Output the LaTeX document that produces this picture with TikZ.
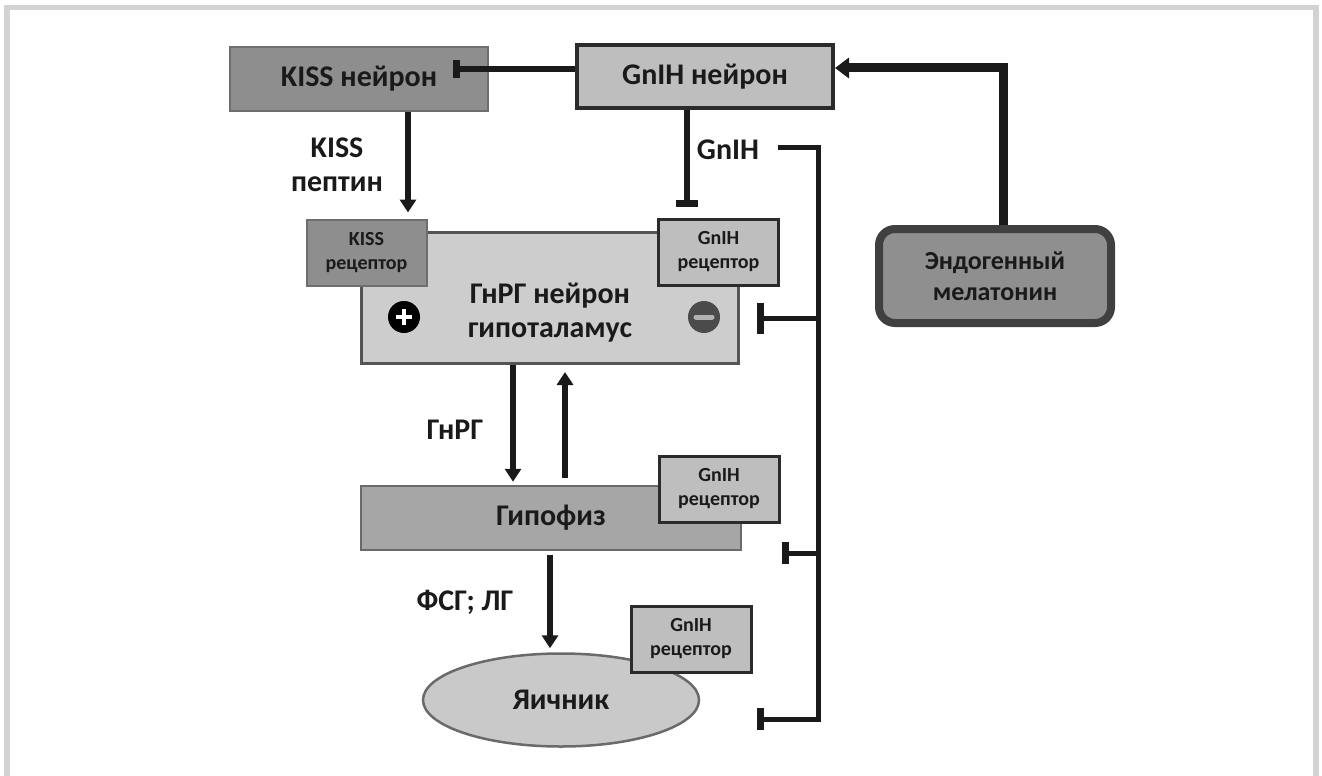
\documentclass[tikz,border=0pt]{standalone}
\usepackage{fontspec}
\setmainfont{Carlito}
\usetikzlibrary{arrows.meta, shapes.geometric}
\definecolor{ink}{HTML}{1A1A1A}
\definecolor{framegray}{HTML}{D3D3D3}
\definecolor{kissgray}{HTML}{8E8E8E}
\definecolor{kissedge}{HTML}{6E6E6E}
\definecolor{gnihgray}{HTML}{BEBEBE}
\definecolor{gnrhgray}{HTML}{CDCDCD}
\definecolor{pitgray}{HTML}{A6A6A6}
\definecolor{ovarygray}{HTML}{C9C9C9}
\definecolor{melgray}{HTML}{8F8F8F}
\definecolor{darkedge}{HTML}{2B2B2B}
\definecolor{midedge}{HTML}{6A6A6A}

\begin{document}
\begin{tikzpicture}[x=1pt, y=-1pt, >={Triangle[length=13pt,width=16pt]},
    every node/.style={font=\bfseries\fontsize{30}{34}\selectfont, text=ink},
    block/.style={rectangle, draw, align=center, inner sep=0pt},
    kissblock/.style={block, fill=kissgray, draw=kissedge, line width=2pt},
    receptor/.style={block, fill=gnihgray, draw=darkedge, line width=3pt, minimum width=120, minimum height=66, font=\bfseries\fontsize{20}{24}\selectfont},
    sign/.style={circle, inner sep=0pt, minimum size=32},
    act/.style={->, draw=ink, line width=6pt},
    inhibit/.style={-{Bar[width=#1, line width=7pt]}, draw=ink, line width=6pt},
    inhibit/.default=22pt]
% frame
\useasboundingbox (0,0) rectangle (1322,776);
\fill[framegray] (4,5) rectangle (1319,776);
\fill[white] (10,10) rectangle (1313,776);

% Top row
\node[kissblock, minimum width=258, minimum height=64] (kiss) at (359,79) {KISS нейрон};
\node[block, fill=gnihgray, draw=darkedge, line width=4pt, minimum width=256, minimum height=63] (gnih) at (705,76.5) {GnIH нейрон};
\node[block, fill=melgray, draw=darkedge!90, line width=8pt, rounded corners=16pt, minimum width=232, minimum height=94, font=\bfseries\fontsize{26}{31}\selectfont] (mel) at (995,276) {Эндогенный\\мелатонин};

% GnRH neuron with its receptors
\node[block, fill=gnrhgray, draw=midedge!80!black, line width=3pt, minimum width=377, minimum height=131] (gnrh) at (550,298) {};
\node[align=center] (gnrhtext) at ([yshift=-15pt]gnrh.center) {ГнРГ нейрон\\гипоталамус};
\node[receptor, fill=kissgray, draw=kissedge, line width=2pt] (kissrec) at (366.5,252.5) {KISS\\рецептор};
\node[receptor] (gnrhrec) at (718.5,252) {GnIH\\рецептор};
\node[sign, fill=black] (plus) at (404,317) {};
\node[sign, fill=darkedge!85] (minus) at (704,317) {};
\draw[white, line width=4pt] ([xshift=-8pt]plus.center) -- ([xshift=8pt]plus.center)
    ([yshift=-8pt]plus.center) -- ([yshift=8pt]plus.center);
\draw[gray!60, line width=5pt, line cap=round] ([xshift=-8pt]minus.center) -- ([xshift=8pt]minus.center);

% Pituitary and ovary
\node[block, fill=pitgray, draw=midedge, line width=2.5pt, minimum width=380, minimum height=64] (pit) at (551,518) {Гипофиз};
\node[receptor] (pitrec) at (719,489) {GnIH\\рецептор};
\node[ellipse, draw=midedge, fill=ovarygray, line width=2.5pt, inner sep=0pt, minimum width=276, minimum height=93] (ovary) at (561,700) {Яичник};
\node[receptor] (ovaryrec) at (691,639) {GnIH\\рецептор};

% KISS and GnIH neurons
\coordinate (kissbar) at (453,69);
\draw[inhibit=17pt] (gnih.west |- kissbar) -- (kissbar);
\draw[act] ([xshift=49pt]kiss.south) -- ([xshift=41.5pt,yshift=6pt]kissrec.north);
\node[align=center] (kisspep) at (337,165) {KISS\\пептин};
\draw[inhibit] ([xshift=-18pt]gnih.south) -- ([xshift=-31.5pt,yshift=10.5pt]gnrhrec.north);
\node (gnihlabel) at (728,150) {GnIH};
\draw[-{Triangle[length=14pt,width=20pt]}, draw=ink, line width=9pt] ([xshift=8pt]mel.north) |- ([yshift=8.5pt]gnih.east);

% Axis downwards
\draw[act] ([xshift=-37pt]gnrh.south) -- ([xshift=-38pt,yshift=3pt]pit.north);
\draw[act] ([xshift=14pt,yshift=7pt]pit.north) -- ([xshift=15pt,yshift=-7pt]gnrh.south);
\node (gnrhlabel) at (455,430) {ГнРГ};
\draw[act] ([xshift=-1pt,yshift=-4pt]pit.south) -- ([xshift=-11pt,yshift=4pt]ovary.north);
\node (fshlabel) at (465,602) {ФСГ; ЛГ};

% GnIH feedback
\coordinate (fbstart) at (778,147);
\coordinate (fbspine) at (818,719);
\coordinate (fbgnrh) at (757,318);
\coordinate (fbpit) at (782,553);
\coordinate (fbovary) at (757,719);
\draw[inhibit, line width=5pt] (fbstart) -| (fbspine) -- (fbovary);
\draw[inhibit=31pt, line width=5pt] (fbgnrh -| fbspine) -- (fbgnrh);
\draw[inhibit, line width=5pt] (fbpit -| fbspine) -- (fbpit);
\end{tikzpicture}
\end{document}
